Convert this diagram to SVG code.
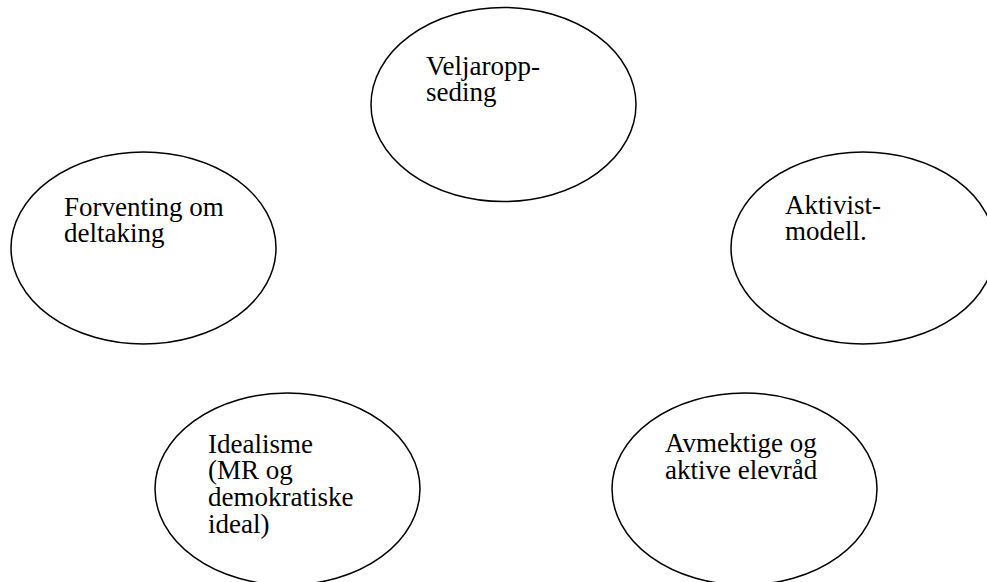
<svg xmlns="http://www.w3.org/2000/svg" width="987" height="582" viewBox="0 0 987 582">
  <style>
    .bubble { fill: #ffffff; stroke: #000000; stroke-width: 1.5; }
    .label { font-family: "Liberation Serif", "Times New Roman", serif; font-size: 27px; fill: #000000; }
  </style>
  <rect width="987" height="582" fill="#ffffff"/>

  <!-- no connectors between the bubbles -->
  <g id="connectors"/>

  <g id="node-veljaroppseding">
    <ellipse class="bubble" cx="503.5" cy="104.5" rx="132.5" ry="97"/>
    <text class="label" x="426" y="74.5">
      <tspan x="426" y="74.5">Veljaropp-</tspan>
      <tspan x="426" y="101">seding</tspan>
    </text>
  </g>

  <g id="node-forventing">
    <ellipse class="bubble" cx="143.5" cy="248" rx="132.5" ry="96"/>
    <text class="label" x="64" y="215.5">
      <tspan x="64" y="215.5">Forventing om</tspan>
      <tspan x="64" y="242">deltaking</tspan>
    </text>
  </g>

  <g id="node-aktivistmodell">
    <ellipse class="bubble" cx="863" cy="248" rx="132" ry="96"/>
    <text class="label" x="785" y="213.5">
      <tspan x="785" y="213.5">Aktivist-</tspan>
      <tspan x="785" y="240">modell.</tspan>
    </text>
  </g>

  <g id="node-idealisme">
    <ellipse class="bubble" cx="287.5" cy="489" rx="132.5" ry="96"/>
    <text class="label" x="208" y="452.7">
      <tspan x="208" y="452.7">Idealisme</tspan>
      <tspan x="208" y="479.4">(MR og</tspan>
      <tspan x="208" y="506.1">demokratiske</tspan>
      <tspan x="208" y="532.8">ideal)</tspan>
    </text>
  </g>

  <g id="node-elevraad">
    <ellipse class="bubble" cx="744.5" cy="489" rx="132.5" ry="96"/>
    <text class="label" x="665" y="452">
      <tspan x="665" y="452">Avmektige og</tspan>
      <tspan x="665" y="478.5">aktive elevråd</tspan>
    </text>
  </g>
</svg>
